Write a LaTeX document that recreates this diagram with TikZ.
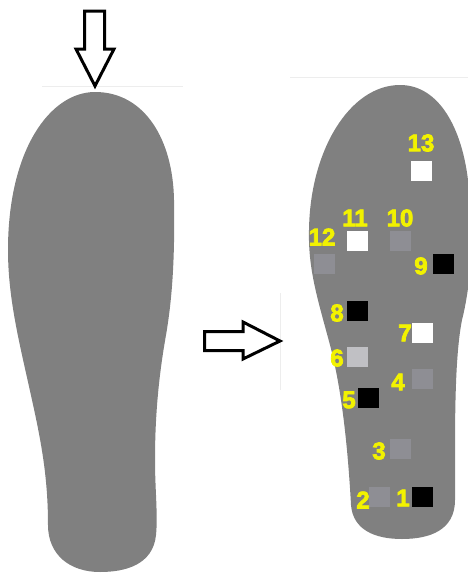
\documentclass[tikz,border=0pt]{standalone}
\usepackage{fontspec}
\setmainfont{Liberation Sans}
\newfontfamily\labfont[FakeBold=3.2]{Liberation Sans Bold}
\definecolor{solegray}{RGB}{128,128,128}
\definecolor{labyellow}{RGB}{242,242,0}
\definecolor{midgray}{RGB}{142,142,148}
\definecolor{lightsq}{RGB}{192,192,196}
\begin{document}
\begin{tikzpicture}[x=1pt,y=-1pt,
  sole/.style={fill=solegray,draw=none},
  sq/.style={minimum width=21pt,minimum height=20pt,inner sep=0pt,draw=none},
  lab/.style={text=labyellow,font=\labfont\fontsize{24}{24}\selectfont,inner sep=0pt},
  bigarrow/.style={draw=black,fill=white,line width=3pt,line join=miter},
  faint/.style={draw=black!7,line width=0.8pt}]
\useasboundingbox (0,0) rectangle (468,573);
\clip (0,0) rectangle (468,573);
% faint scan lines
\draw[faint] (42,86) -- (183,86);
\draw[faint] (290,77) -- (468,77);
\draw[faint] (280,293) -- (280,390);
% left sole
\path[sole] (95,92) .. controls (145,92) and (173,140) .. (174,200)
  .. controls (175,260) and (172,300) .. (166,335)
  .. controls (158,380) and (155,420) .. (155,460)
  .. controls (155,490) and (158,515) .. (156,535)
  .. controls (153,565) and (125,572) .. (100,572)
  .. controls (70,572) and (48,555) .. (48,525)
  .. controls (48,480) and (42,445) .. (32,400)
  .. controls (20,345) and (8,300) .. (8,250)
  .. controls (8,150) and (50,92) .. (95,92) -- cycle;
% right sole
\path[sole] (400,85) .. controls (440,85) and (462,130) .. (468,180)
  .. controls (474,230) and (472,280) .. (462,320)
  .. controls (456,350) and (455,400) .. (455,450)
  -- (455,500)
  .. controls (455,530) and (430,539) .. (402,539)
  .. controls (375,539) and (353,530) .. (351,505)
  .. controls (348,450) and (342,390) .. (330,345)
  .. controls (318,300) and (308,270) .. (309,230)
  .. controls (310,150) and (350,85) .. (400,85) -- cycle;
% arrows
\draw[bigarrow] (84.5,11) -- (104.5,11) -- (104.5,49) -- (114,49) -- (95,86)
  -- (76,49) -- (84.5,49) -- cycle;
\draw[bigarrow] (204.5,331.5) -- (243,331.5) -- (243,322) -- (280,341)
  -- (243,359) -- (243,350.5) -- (204.5,350.5) -- cycle;
% sensors
\node[sq,fill=white]   (s13) at (421,171) {};
\node[sq,fill=white]   (s11) at (357,241) {};
\node[sq,fill=midgray] (s10) at (400,241) {};
\node[sq,fill=midgray] (s12) at (324,264) {};
\node[sq,fill=black]   (s9)  at (443,264) {};
\node[sq,fill=black]   (s8)  at (357,311) {};
\node[sq,fill=white]   (s7)  at (422,333) {};
\node[sq,fill=lightsq] (s6)  at (357,357) {};
\node[sq,fill=midgray] (s4)  at (422,379) {};
\node[sq,fill=black]   (s5)  at (368,398) {};
\node[sq,fill=midgray] (s3)  at (400,449) {};
\node[sq,fill=midgray] (s2)  at (379,497) {};
\node[sq,fill=black]   (s1)  at (422,497) {};
% labels
\node[lab] (l13) at (421,143) {13};
\node[lab] (l11) at (355,218) {11};
\node[lab] (l10) at (400,218) {10};
\node[lab] (l12) at (322,237) {12};
\node[lab] (l9)  at (421,266) {9};
\node[lab] (l8)  at (337,313) {8};
\node[lab] (l7)  at (405,333) {7};
\node[lab] (l6)  at (337,358) {6};
\node[lab] (l4)  at (398,382) {4};
\node[lab] (l5)  at (349,400) {5};
\node[lab] (l3)  at (379,451) {3};
\node[lab] (l2)  at (363,500) {2};
\node[lab] (l1)  at (403,498) {1};
\end{tikzpicture}
\end{document}
